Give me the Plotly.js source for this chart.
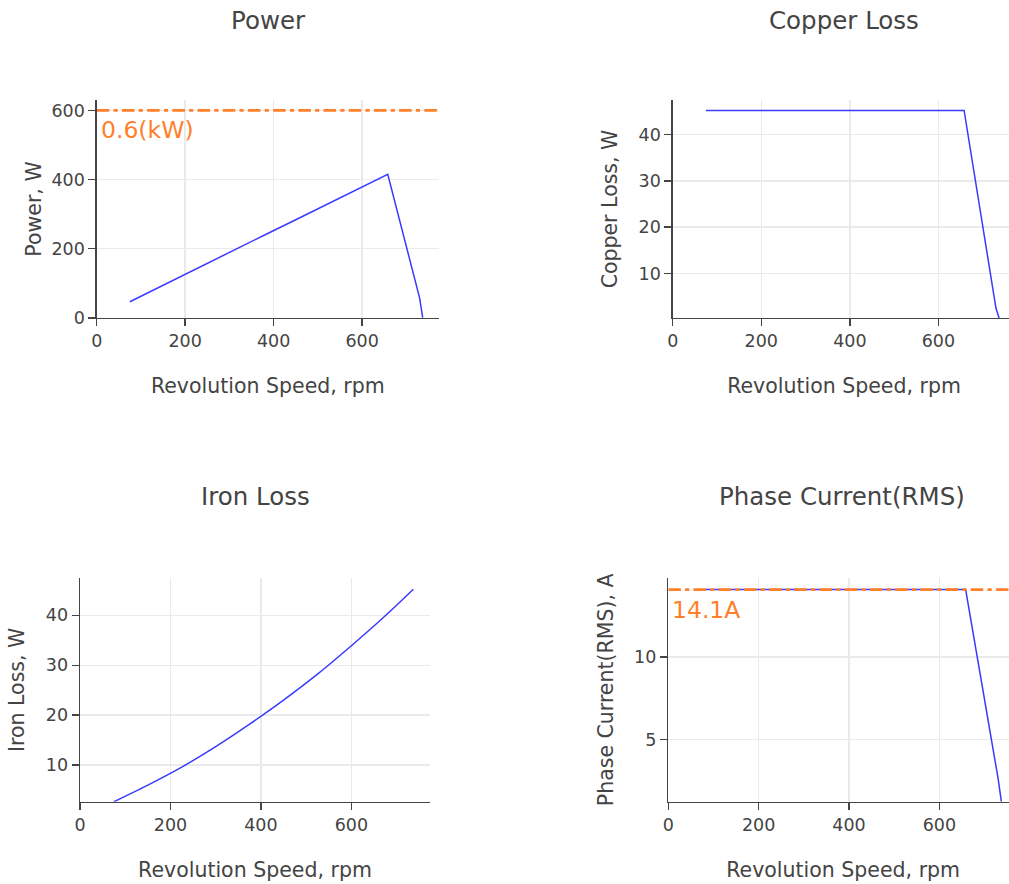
<!DOCTYPE html>
<html>
<head>
<meta charset="utf-8">
<script src="https://cdn.plot.ly/plotly-3.0.1.min.js"></script>
<style>
html, body { margin: 0; padding: 0; overflow: hidden; background: #fff; }
#chart { width: 1020px; height: 884px; }
</style>
</head>
<body>
<div id="chart"></div>
<script>
// ---- data ----
const speedRpm      = [75, 150, 225, 300, 375, 450, 525, 600, 658, 730, 737];
const powerW        = [47, 95, 142, 189, 237, 284, 331, 379, 415, 58, 1];
const copperLossW   = [45.25, 45.25, 45.25, 45.25, 45.25, 45.25, 45.25, 45.25, 45.25, 2.44, 0.35];
const phaseCurrentA = [14.1, 14.1, 14.1, 14.1, 14.1, 14.1, 14.1, 14.1, 14.1, 2.6, 1.22];
const ironSpeedRpm  = [75, 150, 225, 300, 375, 450, 525, 600, 658, 700, 737];
const ironLossW     = [2.67, 6.0, 9.6, 13.7, 18.2, 23.0, 28.2, 33.9, 38.5, 42.0, 45.2];
const powerLimitW = 600;
const powerLimitLabel = '0.6(kW)';
const currentLimitA = 14.1;
const currentLimitLabel = '14.1A';
const subplotTitles = ['Power', 'Copper Loss', 'Iron Loss', 'Phase Current(RMS)'];
const yTitles = ['Power, W', 'Copper Loss, W', 'Iron Loss, W', 'Phase Current(RMS), A'];
const xTitle = 'Revolution Speed, rpm';

// ---- layout helpers ----
const W = 1020, H = 884;
const px = v => v / W;
const py = v => 1 - v / H;
const FONT = 'DejaVu Sans, Verdana, sans-serif';
const TXT = '#444';
const BLUE = '#3a3aff';
const ORANGE = '#ff7f2a';
const maxOf = a => Math.max.apply(null, a);
const minOf = a => Math.min.apply(null, a);
const xMax = maxOf(speedRpm) * 1.05;

function xAxis(dom, anchor) {
  return {
    domain: dom, anchor: anchor, range: [0, xMax],
    showline: true, linecolor: '#444', linewidth: 1.4,
    ticks: 'outside', ticklen: 7, tickwidth: 1.4, tickcolor: '#444',
    showgrid: true, gridcolor: '#eaeaea', gridwidth: 1.4, zeroline: false,
    dtick: 200, tick0: 0,
    tickfont: {family: FONT, size: 17.5, color: TXT},
    title: {text: xTitle, font: {family: FONT, size: 20.5, color: TXT}, standoff: 28}
  };
}
function yAxis(dom, anchor, range, dtick, title, standoff) {
  return {
    domain: dom, anchor: anchor, range: range,
    showline: true, linecolor: '#444', linewidth: 1.4,
    ticks: 'outside', ticklen: 7, tickwidth: 1.4, tickcolor: '#444',
    showgrid: true, gridcolor: '#eaeaea', gridwidth: 1.4, zeroline: false,
    dtick: dtick, tick0: 0,
    tickfont: {family: FONT, size: 17.5, color: TXT},
    title: {text: title, font: {family: FONT, size: 20.5, color: TXT}, standoff: standoff}
  };
}

const blueLine = {color: BLUE, width: 1.5};
const refLine = {color: ORANGE, width: 2.8, dash: '12.6px,4.2px,4.2px,4.2px'};

const traces = [
  {x: speedRpm, y: powerW, xaxis: 'x', yaxis: 'y', mode: 'lines', line: blueLine},
  {x: [0, xMax], y: [powerLimitW, powerLimitW], xaxis: 'x', yaxis: 'y', mode: 'lines', line: refLine},
  {x: speedRpm, y: copperLossW, xaxis: 'x2', yaxis: 'y2', mode: 'lines', line: blueLine},
  {x: ironSpeedRpm, y: ironLossW, xaxis: 'x3', yaxis: 'y3', mode: 'lines', line: Object.assign({shape: 'spline', smoothing: 0.6}, blueLine)},
  {x: speedRpm, y: phaseCurrentA, xaxis: 'x4', yaxis: 'y4', mode: 'lines', line: blueLine},
  {x: [0, xMax], y: [currentLimitA, currentLimitA], xaxis: 'x4', yaxis: 'y4', mode: 'lines', line: refLine}
];

const topDom = [py(318), py(100)];
const botDom = [py(801.7), py(578)];

const titleFont = {family: FONT, size: 24.5, color: TXT};
const labelFont = {family: FONT, size: 23.5, color: ORANGE};
const layout = {
  width: W, height: H,
  margin: {l: 0, r: 0, t: 0, b: 0},
  showlegend: false,
  paper_bgcolor: '#fff', plot_bgcolor: '#fff',
  font: {family: FONT, color: TXT},
  xaxis:  xAxis([px(96.7), px(439)], 'y'),
  yaxis:  yAxis(topDom, 'x', [0, powerLimitW * 1.05], 200, yTitles[0], 4),
  xaxis2: xAxis([px(672.7), px(1015.4)], 'y2'),
  yaxis2: yAxis(topDom, 'x2', [minOf(copperLossW), maxOf(copperLossW) * 1.05], 10, yTitles[1], 15),
  xaxis3: xAxis([px(80), px(430)], 'y3'),
  yaxis3: yAxis(botDom, 'x3', [minOf(ironLossW), maxOf(ironLossW) * 1.05], 10, yTitles[2], 15),
  xaxis4: xAxis([px(668.3), px(1018)], 'y4'),
  yaxis4: yAxis(botDom, 'x4', [minOf(phaseCurrentA), currentLimitA * 1.05], 5, yTitles[3], 15),
  annotations: [
    {text: subplotTitles[0], xref: 'paper', yref: 'paper', x: px(268), y: py(20), xanchor: 'center', yanchor: 'middle', showarrow: false, font: titleFont},
    {text: subplotTitles[1], xref: 'paper', yref: 'paper', x: px(844), y: py(20), xanchor: 'center', yanchor: 'middle', showarrow: false, font: titleFont},
    {text: subplotTitles[2], xref: 'paper', yref: 'paper', x: px(255), y: py(496), xanchor: 'center', yanchor: 'middle', showarrow: false, font: titleFont},
    {text: subplotTitles[3], xref: 'paper', yref: 'paper', x: px(842), y: py(496), xanchor: 'center', yanchor: 'middle', showarrow: false, font: titleFont},
    {text: powerLimitLabel, xref: 'x', yref: 'y', x: 0, y: powerLimitW, xanchor: 'left', yanchor: 'top', xshift: 2, yshift: -4, showarrow: false, font: labelFont},
    {text: currentLimitLabel, xref: 'x4', yref: 'y4', x: 0, y: currentLimitA, xanchor: 'left', yanchor: 'top', xshift: 2, yshift: -4, showarrow: false, font: labelFont}
  ]
};

Plotly.newPlot('chart', traces, layout, {displayModeBar: false, staticPlot: true});
</script>
</body>
</html>
